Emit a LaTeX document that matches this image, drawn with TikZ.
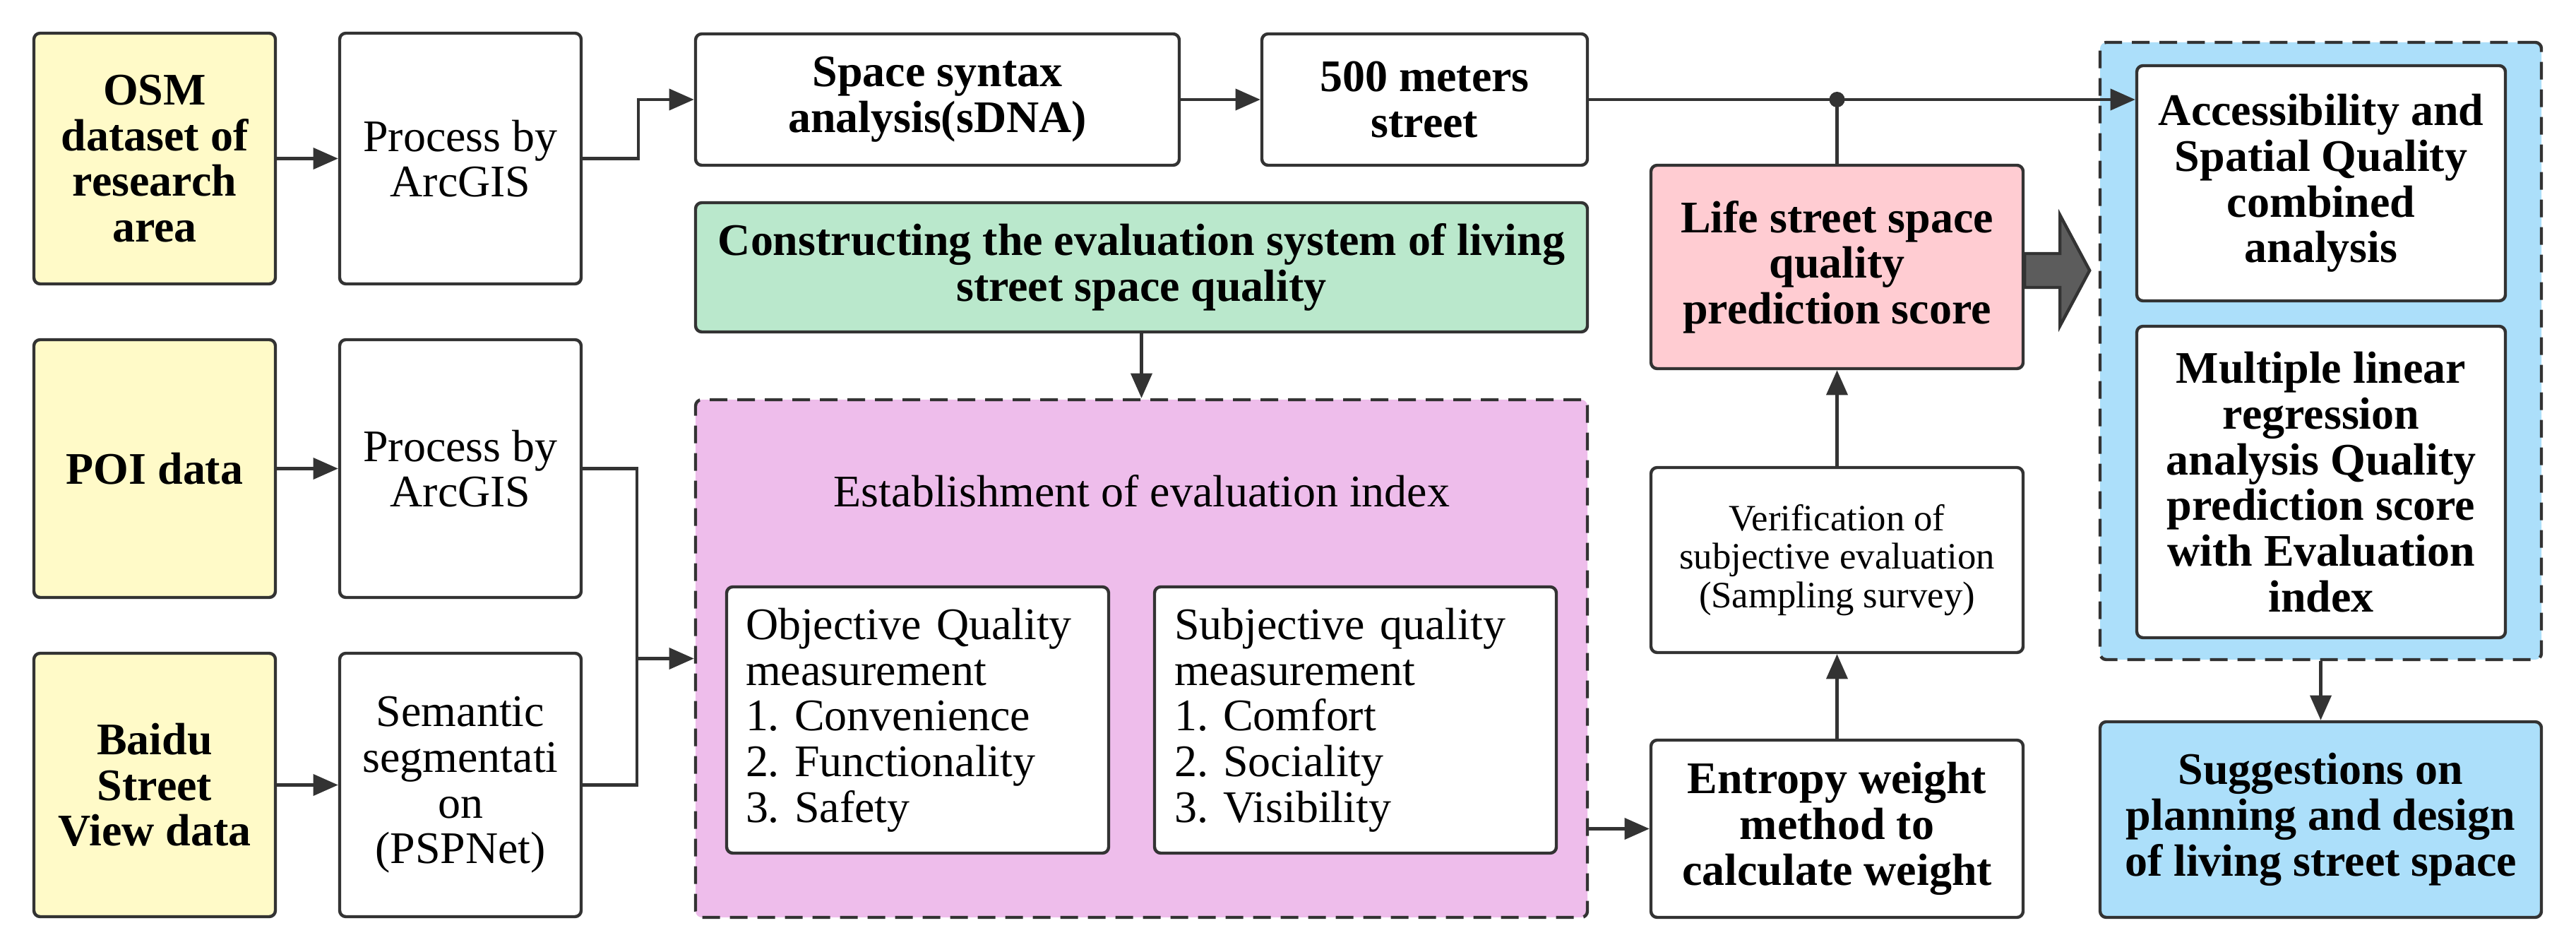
\documentclass[tikz,border=0pt]{standalone}
\usepackage{fontspec}
\setmainfont{Liberation Serif}
\usetikzlibrary{arrows.meta}
\definecolor{lineC}{HTML}{333333}
\definecolor{yellowC}{HTML}{FFFAC8}
\definecolor{greenC}{HTML}{BAE8CC}
\definecolor{pinkC}{HTML}{EEBDEB}
\definecolor{roseC}{HTML}{FFCCD2}
\definecolor{blueC}{HTML}{ACDFFA}
\definecolor{fatC}{HTML}{5C5C5C}
\frenchspacing

\begin{document}
\begin{tikzpicture}[
    box/.style={draw=lineC, line width=1.25pt, rounded corners=2.5pt, fill=white, align=center, inner sep=3pt, font=\fontsize{18.2}{18.4}\selectfont},
    bbox/.style={box, font=\fontsize{18.2}{18.4}\selectfont\bfseries},
    dashbox/.style={draw=lineC, line width=1.25pt, rounded corners=2.5pt, dash pattern=on 0.25cm off 0.14cm},
    arr/.style={draw=lineC, line width=1.25pt, -{Triangle[length=10pt,width=8.5pt]}},
    ln/.style={draw=lineC, line width=1.25pt}
]
    \useasboundingbox (0,0) rectangle (36.48,13.48);

    % data sources
    \node[bbox, fill=yellowC, minimum width=3.42cm, minimum height=3.55cm] (OSM) at (2.19,11.235) {OSM\\dataset of\\research\\area};
    \node[bbox, fill=yellowC, minimum width=3.42cm, minimum height=3.65cm] (POI) at (2.19,6.845) {POI data};
    \node[bbox, fill=yellowC, minimum width=3.42cm, minimum height=3.73cm] (Baidu) at (2.19,2.365) {Baidu\\Street\\View data};

    % processing
    \node[box, minimum width=3.42cm, minimum height=3.55cm] (P1) at (6.52,11.235) {Process by\\ArcGIS};
    \node[box, minimum width=3.42cm, minimum height=3.65cm] (P2) at (6.52,6.845) {Process by\\ArcGIS};
    \node[box, minimum width=3.42cm, minimum height=3.73cm] (Sem) at (6.52,2.365) {Semantic\\segmentati\\on\\(PSPNet)};

    \node[bbox, minimum width=6.85cm, minimum height=1.86cm] (Space) at (13.275,12.07) {Space syntax\\analysis(sDNA)};
    \node[bbox, minimum width=4.61cm, minimum height=1.86cm] (M) at (20.175,12.07) {500 meters\\street};
    \node[bbox, fill=greenC, minimum width=12.63cm, minimum height=1.83cm] (Green) at (16.165,9.695) {Constructing the evaluation system of living\\street space quality};

    % evaluation index
    \node[dashbox, fill=pinkC, minimum width=12.63cm, minimum height=7.33cm] (Pink) at (16.165,4.155) {};
    \node[font=\fontsize{18.2}{18.4}\selectfont] (Est) at (16.17,6.53) {Establishment of evaluation index};
    \node[box, align=left, text width=4.87cm, inner xsep=0.27cm, minimum height=3.77cm] (Obj) at (12.995,3.285) {Objective Quality\\measurement\\1. Convenience\\2. Functionality\\3. Safety};
    \node[box, align=left, text width=5.13cm, inner xsep=0.28cm, minimum height=3.77cm] (Subj) at (19.195,3.285) {Subjective quality\\measurement\\1. Comfort\\2. Sociality\\3. Visibility};

    % weights and score
    \node[bbox, fill=roseC, minimum width=5.27cm, minimum height=2.88cm] (Life) at (26.015,9.70) {Life street space\\quality\\prediction score};
    \node[box, font=\fontsize{15}{15.6}\selectfont, minimum width=5.27cm, minimum height=2.62cm] (Ver) at (26.015,5.55) {Verification of\\subjective evaluation\\(Sampling survey)};
    \node[bbox, minimum width=5.27cm, minimum height=2.51cm] (Ent) at (26.015,1.745) {Entropy weight\\method to\\calculate weight};

    % analysis
    \node[dashbox, fill=blueC, minimum width=6.25cm, minimum height=8.74cm] (Blue) at (32.865,8.51) {};
    \node[bbox, minimum width=5.22cm, minimum height=3.33cm] (Acc) at (32.87,10.885) {Accessibility and\\Spatial Quality\\combined\\analysis};
    \node[bbox, minimum width=5.22cm, minimum height=4.41cm] (Mult) at (32.87,6.655) {Multiple linear\\regression\\analysis Quality\\prediction score\\with Evaluation\\index};
    \node[bbox, fill=blueC, minimum width=6.25cm, minimum height=2.77cm] (Sug) at (32.865,1.875) {Suggestions on\\planning and design\\of living street space};

    \draw[arr] (OSM) -- (P1);
    \draw[arr] (POI) -- (P2);
    \draw[arr] (Baidu) -- (Sem);
    \draw[arr] (P1.east) -- ++(0.79,0) |- (Space.west);
    \coordinate (J) at (9.02,4.155);
    \draw[ln] (P2.east) -| (J);
    \draw[ln] (Sem.east) -| (J);
    \draw[arr] (J) -- (Pink.west);
    \draw[arr] (Space) -- (M);
    \draw[arr] (Green) -- (Pink);
    \draw[arr] (Pink.east |- Ent.west) -- (Ent.west);
    \draw[arr] (Ent) -- (Ver);
    \draw[arr] (Ver) -- (Life);
    \coordinate (Dot) at (Life.north |- M.east);
    \draw[ln] (M.east) -- (Dot);
    \draw[ln] (Life.north) -- (Dot);
    \draw[arr] (Dot) -- (Acc.west |- Dot);
    \fill[lineC] (Dot) circle (0.11);
    \draw[arr] (Blue) -- (Sug);

    % big arrow
    \draw[draw=lineC, fill=fatC, line width=1.25pt, line join=miter] ([yshift=-0.05cm]Life.east) ++(0,0.24) -- ++(0.5,0) -- ++(0,0.545) -- ++(0.42,-0.785) -- ++(-0.42,-0.785) -- ++(0,0.545) -- ++(-0.5,0) -- cycle;
\end{tikzpicture}
\end{document}
